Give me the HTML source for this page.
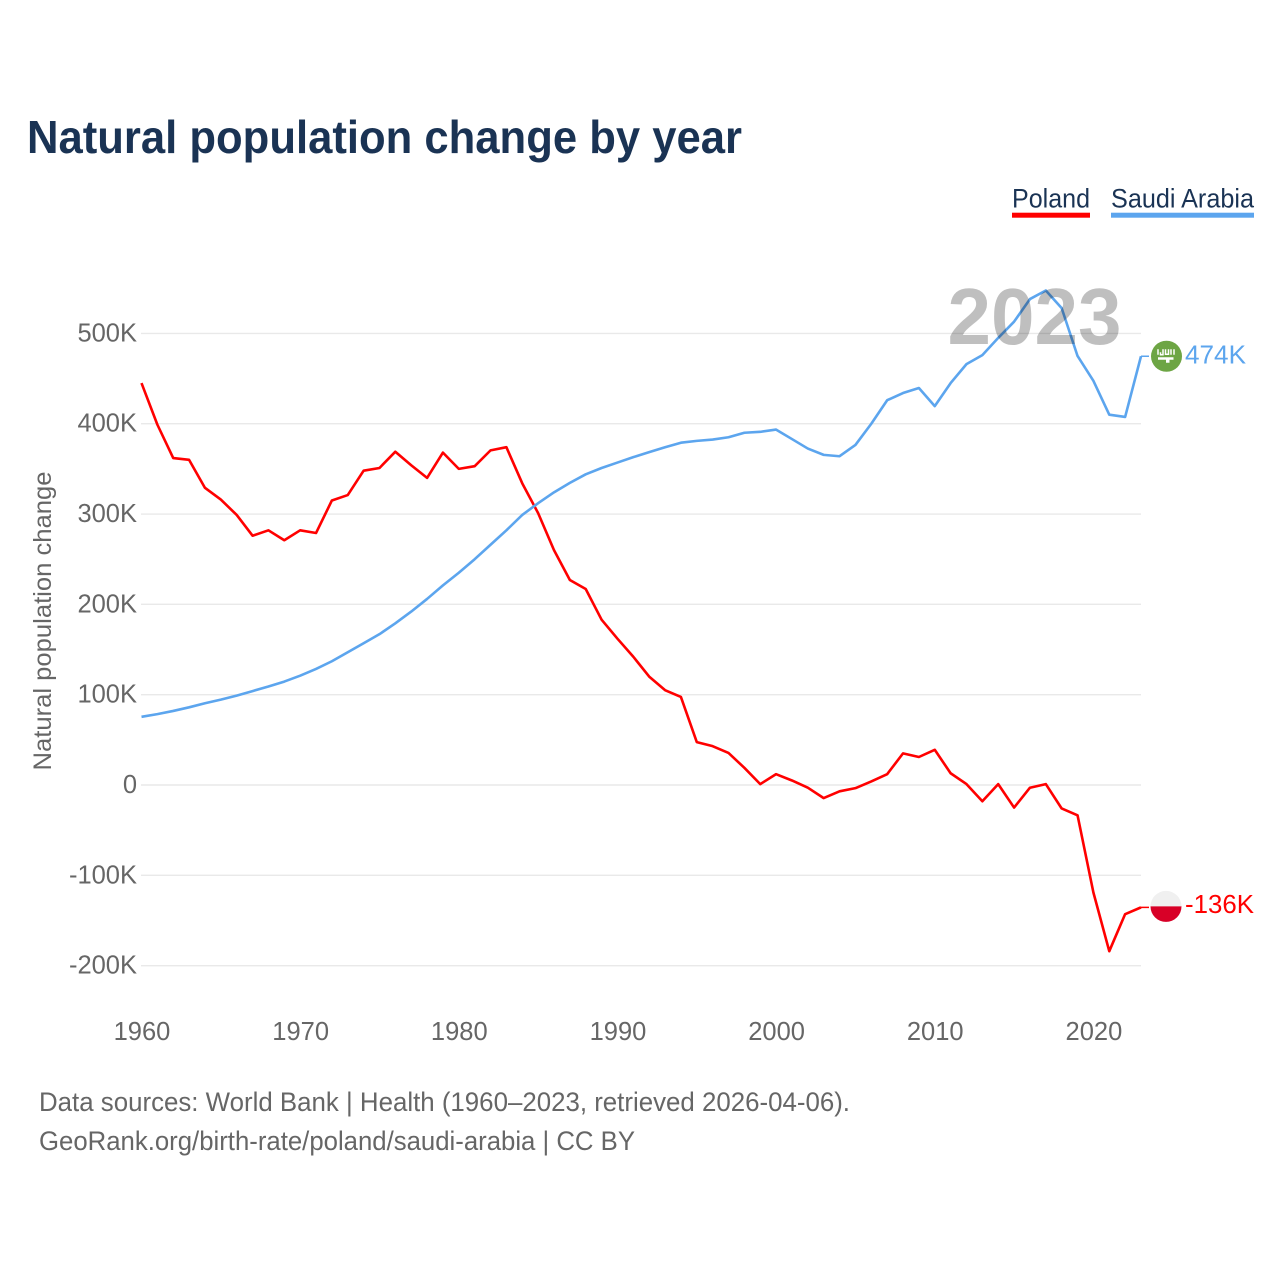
<!DOCTYPE html>
<html lang="en">
<head>
<meta charset="utf-8">
<title>Natural population change by year</title>
<style>
html,body{margin:0;padding:0;background:#fff;width:1280px;height:1280px;overflow:hidden}
svg{display:block}
text{font-family:"Liberation Sans",sans-serif}
</style>
</head>
<body>
<svg id="chart" xmlns="http://www.w3.org/2000/svg" width="1280" height="1280" viewBox="0 0 1280 1280">
  <rect width="1280" height="1280" fill="#fff"/>
  <text x="27" y="153" font-size="46" font-weight="700" fill="#1a3354" textLength="715" lengthAdjust="spacingAndGlyphs">Natural population change by year</text>

  <g>
    <g>
      <text x="1012" y="207.5" font-size="27" fill="#1a3354" textLength="78" lengthAdjust="spacingAndGlyphs">Poland</text>
      <rect x="1012" y="212.7" width="78" height="5" fill="#ff0000"/>
    </g>
    <g>
      <text x="1111" y="207.5" font-size="27" fill="#1a3354" textLength="143" lengthAdjust="spacingAndGlyphs">Saudi Arabia</text>
      <rect x="1111" y="212.7" width="143" height="5" fill="#5ca5ee"/>
    </g>
  </g>

  <g id="grid"></g>
  <g id="yticks"></g>
  <g id="xticks"></g>
  <text transform="translate(51,621) rotate(-90)" text-anchor="middle" font-size="25" fill="#666" textLength="299" lengthAdjust="spacingAndGlyphs">Natural population change</text>
  <g id="series"></g>
  <g id="ends"></g>
  <text x="1034.5" y="344" text-anchor="middle" font-size="80" font-weight="700" fill="#000" fill-opacity="0.25" textLength="174" lengthAdjust="spacingAndGlyphs">2023</text>

  <text x="39" y="1111" font-size="27" fill="#666" textLength="811" lengthAdjust="spacingAndGlyphs">Data sources: World Bank | Health (1960–2023, retrieved 2026-04-06).</text>
  <text x="39" y="1150" font-size="27" fill="#666" textLength="596" lengthAdjust="spacingAndGlyphs">GeoRank.org/birth-rate/poland/saudi-arabia | CC BY</text>
</svg>
<script>
// Data, in thousands of people per year
const startYear = 1960;
const poland = [445,399,362,360,329,316,299,276,282,271,282,279,315,321,348,351,369,354,340,368,350,353,370.5,374,334,301,260,227,217,183,162,142,120,105,97.5,47.5,43,35.5,19,1,12,5,-3,-14.5,-7,-3.5,4,12,35,31,39,13,1,-18,1,-25,-3,1,-26,-33.5,-119,-184,-143,-135.5];
const saudiArabia = [75.5,78.5,82,86,90.5,94.5,99,104,109,114.5,121,128.5,137,147,157,167,179,192,206,221,235,250,266,282,299,312,324,334.5,344,351,357,363,368.5,374,379,381,382.5,385,390,391,393.5,383,372.5,365.5,364,376.5,400,426,434,439.5,419.5,445,466,476,495,513,538,547.5,528,475,447.5,410,407.5,474.7];
const yTickValues = [500,400,300,200,100,0,-100,-200];
const yTickLabels = ["500K","400K","300K","200K","100K","0","-100K","-200K"];
const xTickYears = [1960,1970,1980,1990,2000,2010,2020];
const xTickLabels = ["1960","1970","1980","1990","2000","2010","2020"];
const polandLabel = "-136K";
const saudiLabel = "474K";

const NS = "http://www.w3.org/2000/svg";
function xScale(year){ return 141.5 + (year - 1960) * (1141 - 141.5) / 63; }
function yScale(v){ return 785 - v * 0.9032; }
function make(tag, attrs, parent){
  const el = document.createElementNS(NS, tag);
  for (const k in attrs) el.setAttribute(k, attrs[k]);
  parent.appendChild(el);
  return el;
}
const grid = document.getElementById('grid');
const yticks = document.getElementById('yticks');
const xticks = document.getElementById('xticks');
const series = document.getElementById('series');
const ends = document.getElementById('ends');

yTickValues.forEach(function(v, i){
  const line = make('line', {x1:141, x2:1141, y1:yScale(v), y2:yScale(v), stroke:'#e9e9e9', 'stroke-width':1.4}, grid);
  
  
  const t = make('text', {x:137, y:yScale(v)+8, 'text-anchor':'end', 'font-size':25.5, fill:'#666'}, yticks);
  
  
  t.textContent = yTickLabels[i];
});
xTickYears.forEach(function(y, i){
  const t = make('text', {x:xScale(y)+0.5, y:1040, 'text-anchor':'middle', 'font-size':25.5, fill:'#666'}, xticks);
  
  
  t.textContent = xTickLabels[i];
});
function pathFor(values){
  return values.map(function(v, i){
    return (i ? 'L' : 'M') + xScale(startYear + i).toFixed(2) + ' ' + yScale(v).toFixed(2);
  }).join('');
}
const polandLine = make('path', {d:pathFor(poland), fill:'none', stroke:'#ff0000', 'stroke-width':2.6, 'stroke-linejoin':'round'}, series);


const saudiLine = make('path', {d:pathFor(saudiArabia), fill:'none', stroke:'#5ca5ee', 'stroke-width':2.6, 'stroke-linejoin':'round'}, series);



// End-of-line leaders, flag markers and value labels
const lastYear = startYear + poland.length - 1;
const endX = xScale(lastYear);
const yP = yScale(poland[poland.length - 1]);
const yS = yScale(saudiArabia[saudiArabia.length - 1]);

const leadP = make('line', {x1:endX, x2:1149, y1:yP, y2:yP, stroke:'#ff0000', 'stroke-width':1.5}, ends);


const leadS = make('line', {x1:endX, x2:1149, y1:yS, y2:yS, stroke:'#5ca5ee', 'stroke-width':1.5}, ends);



// Saudi flag marker
const flagS = make('g', {transform:'translate(1166.5,' + yS + ')'}, ends);


make('circle', {r:15.5, fill:'#6da544'}, flagS);
make('path', {d:'M-8.5 -7V-1.5M-6 -4V-1.5H-3.5V-7M-1 -7V-2H2V-7M4.5 -7V-1.5M7.5 -7V-1.5', fill:'none', stroke:'#fff', 'stroke-width':1.5}, flagS);
make('path', {d:'M-8.5 1H7V3.5H3V6.5H-0.5V3.5H-8.5Z', fill:'#fff'}, flagS);

// Poland flag marker
const flagP = make('g', {transform:'translate(1166,' + (yP - 1) + ')'}, ends);


make('circle', {r:15.5, fill:'#f0f0f0'}, flagP);
make('path', {d:'M-15.5 0A15.5 15.5 0 0 0 15.5 0Z', fill:'#d80027'}, flagP);

const labS = make('text', {x:1185, y:yS + 7, 'font-size':26, fill:'#5ca5ee', textLength:61, lengthAdjust:'spacingAndGlyphs'}, ends);


labS.textContent = saudiLabel;
const labP = make('text', {x:1185, y:yP + 5.5, 'font-size':26, fill:'#ff0000', textLength:69, lengthAdjust:'spacingAndGlyphs'}, ends);


labP.textContent = polandLabel;
</script>
</body>
</html>
